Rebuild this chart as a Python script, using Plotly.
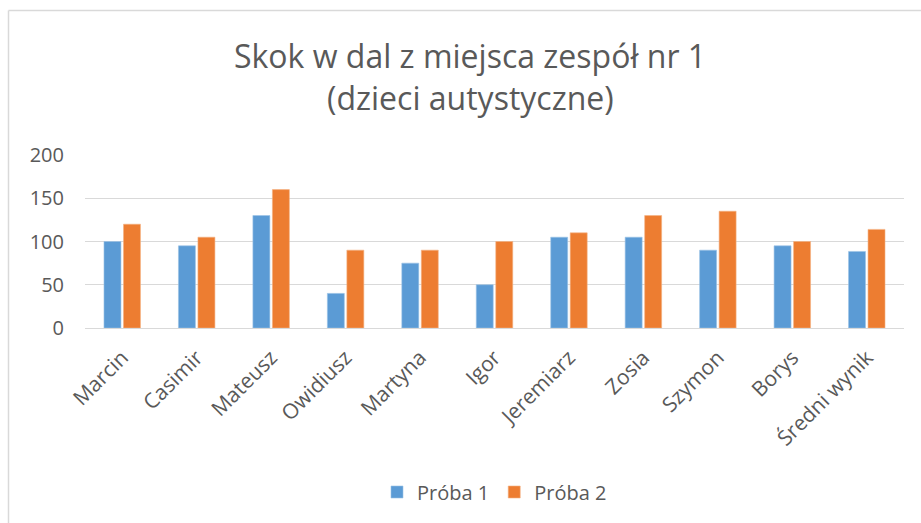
"""Skok w dal z miejsca - wykres słupkowy (Plotly)."""

import plotly.graph_objects as go

BLUE = "#5B9BD5"
ORANGE = "#ED7D31"
TEXT = "#595959"
GRID = "#D9D9D9"
FONT = "Open Sans"

names = [
    "Marcin", "Casimir", "Mateusz", "Owidiusz", "Martyna", "Igor",
    "Jeremiarz", "Zosia", "Szymon", "Borys", "Średni wynik",
]
proba_1 = [100, 95, 130, 40, 75, 50, 105, 105, 90, 95, 88.5]
proba_2 = [120, 105, 160, 90, 90, 100, 110, 130, 135, 100, 114]
y_ticks = [0, 50, 100, 150, 200]
title_lines = ["Skok w dal z miejsca zespół nr 1", "(dzieci autystyczne)"]

W, H = 921, 523
L, R, T, B = 85, 17, 155, 195
plot_h = H - T - B
plot_w = W - L - R


def py(px):
    """pixel row -> paper y"""
    return (H - B - px) / plot_h


def px_(x):
    """pixel column -> paper x"""
    return (x - L) / plot_w


fig = go.Figure()
fig.add_trace(go.Bar(x=names, y=proba_1, name="Próba 1",
                     marker=dict(color=BLUE, line=dict(color="#9CC3E6", width=0.6))))
fig.add_trace(go.Bar(x=names, y=proba_2, name="Próba 2",
                     marker=dict(color=ORANGE, line=dict(color="#F4B183", width=0.6))))

for line, ypx in zip(title_lines, [56, 97]):
    fig.add_annotation(text=line, xref="paper", yref="paper",
                       x=px_(470), y=py(ypx), xanchor="center", yanchor="middle",
                       showarrow=False, font=dict(family=FONT, size=32, color=TEXT))

# ramka wykresu (tylko góra i lewa strona widoczne)
fig.add_shape(type="line", xref="paper", yref="paper",
              x0=px_(8.5), x1=px_(W + 5), y0=py(10.5), y1=py(10.5),
              line=dict(color=GRID, width=1.5))
fig.add_shape(type="line", xref="paper", yref="paper",
              x0=px_(8.5), x1=px_(8.5), y0=py(10.5), y1=py(H + 5),
              line=dict(color=GRID, width=1.5))

fig.update_layout(
    width=W, height=H,
    margin=dict(l=L, r=R, t=T, b=B),
    plot_bgcolor="white", paper_bgcolor="white",
    barmode="group", bargap=0.476, bargroupgap=0.13,
    font=dict(family=FONT, size=20, color=TEXT),
    showlegend=True,
    legend=dict(orientation="h", x=0.5, xanchor="center", y=py(492), yanchor="middle",
                font=dict(family=FONT, size=20, color=TEXT), itemwidth=30,
                traceorder="normal"),
)
fig.update_yaxes(range=[0, 200], tickvals=y_ticks, showgrid=True, gridcolor=GRID,
                 gridwidth=1, zeroline=False, showline=False, ticks="",
                 ticklabelstandoff=20, tickfont=dict(size=20, color=TEXT))
fig.update_xaxes(showline=True, linecolor=GRID, linewidth=1, ticks="",
                 tickangle=-45, ticklabelstandoff=8, tickfont=dict(size=21, color=TEXT))

fig.write_html("out.html", config={"displayModeBar": False},
               post_script="document.body.style.margin='0';")
